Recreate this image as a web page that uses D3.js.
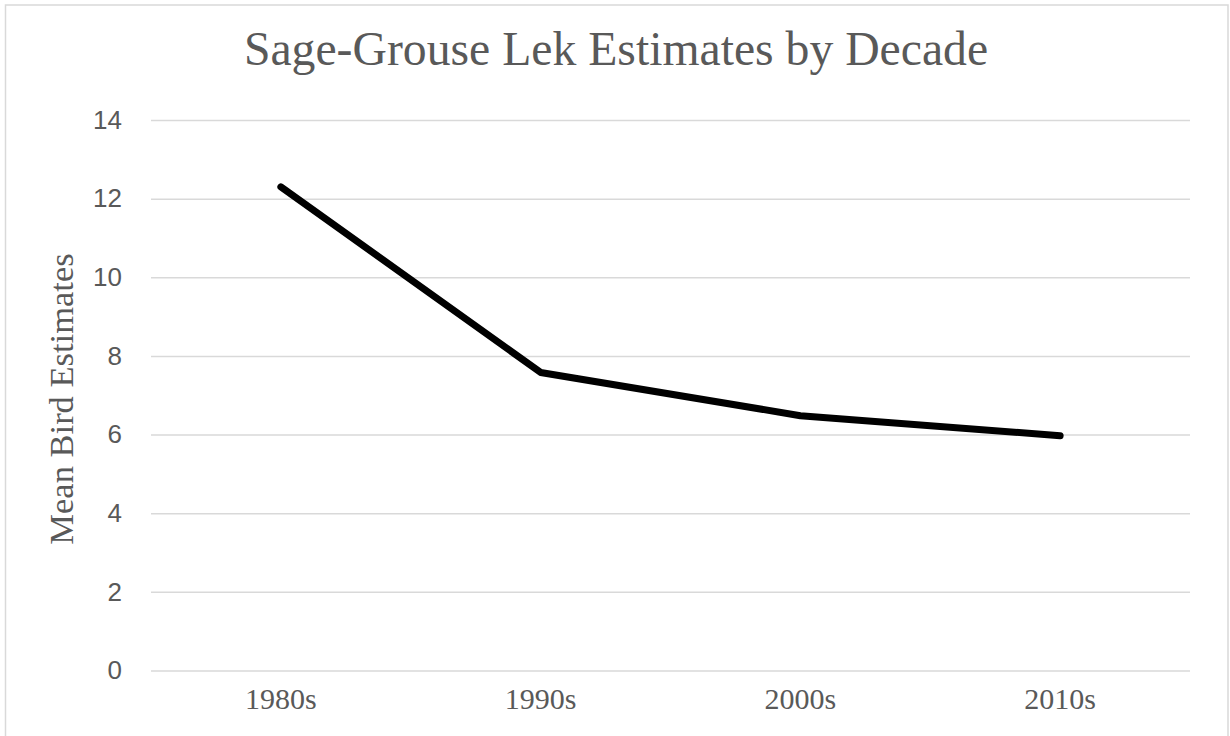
<!DOCTYPE html>
<html><head><meta charset="utf-8">
<script src="https://cdn.jsdelivr.net/npm/d3@7"></script>
<style>body{margin:0;background:#fff;}svg{display:block;}</style>
</head><body>
<script>
const categories = ["1980s", "1990s", "2000s", "2010s"];
const values = [12.3, 7.58, 6.48, 5.97];
const yTicks = [0, 2, 4, 6, 8, 10, 12, 14];
const title = "Sage-Grouse Lek Estimates by Decade";
const yTitle = "Mean Bird Estimates";

const W = 1230, H = 736;
const svg = d3.select("body").append("svg").attr("width", W).attr("height", H);
svg.append("rect").attr("x", 5.5).attr("y", 5).attr("width", 1222.5).attr("height", 740)
  .attr("fill", "#fff").attr("stroke", "#d9d9d9").attr("stroke-width", 1.5);

const x = d3.scaleBand().domain(categories).range([151, 1190]);
const y = d3.scaleLinear().domain([0, 14]).range([670.5, 120]);

const g = svg.append("g");
g.append("g").call(d3.axisLeft(y).tickValues(yTicks).tickSize(-(1190 - 151)).tickPadding(29))
  .attr("transform", "translate(151,0)")
  .call(a => a.select(".domain").remove())
  .call(a => a.selectAll(".tick line").attr("stroke", "#d9d9d9").attr("stroke-width", 1.5))
  .call(a => a.selectAll(".tick text").attr("fill", "#595959")
     .style("font-family", "'Liberation Sans', Arial, sans-serif").style("font-size", "26px"));

g.append("g").attr("transform", "translate(0,670.5)")
  .call(d3.axisBottom(x).tickSize(0).tickPadding(17))
  .call(a => a.select(".domain").remove())
  .call(a => a.selectAll(".tick text").attr("fill", "#595959")
     .style("font-family", "'Liberation Serif', 'Times New Roman', serif").style("font-size", "30px"));

const line = d3.line().x((d, i) => x(categories[i]) + x.bandwidth() / 2).y(d => y(d));
g.append("path").datum(values).attr("d", line).attr("fill", "none")
  .attr("stroke", "#000").attr("stroke-width", 7).attr("stroke-linecap", "round").attr("stroke-linejoin", "round");

svg.append("text").attr("x", 616).attr("y", 65).attr("text-anchor", "middle")
  .attr("fill", "#595959").style("font-family", "'Liberation Serif', 'Times New Roman', serif")
  .style("font-size", "47.7px").text(title);

svg.append("text").attr("transform", "translate(73,399) rotate(-90)").attr("text-anchor", "middle")
  .attr("fill", "#595959").style("font-family", "'Liberation Serif', 'Times New Roman', serif")
  .style("font-size", "34.5px").text(yTitle);
</script>
</body></html>
